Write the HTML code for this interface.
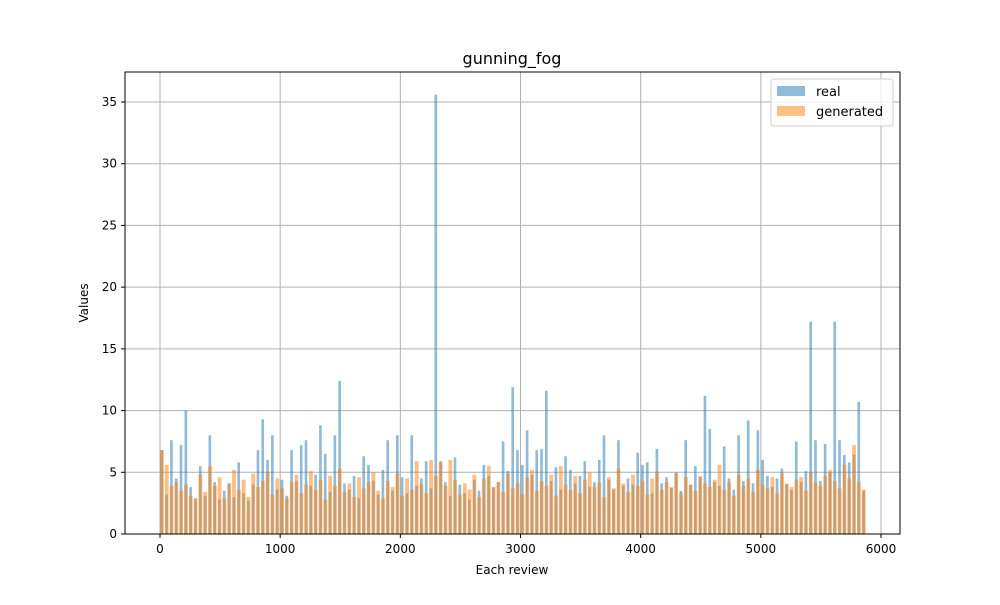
<!DOCTYPE html>
<html><head><meta charset="utf-8"><style>
body{margin:0;background:#fff;font-family:"Liberation Sans","DejaVu Sans",sans-serif;}
text{font-family:"DejaVu Sans","Liberation Sans",sans-serif;}
</style></head><body>
<svg id="chart" width="1000" height="600">
<rect width="1000" height="600" fill="#fff"/>
<g id="grid"></g>
<g id="bars"></g>
<rect x="125" y="72" width="775" height="462" fill="none" stroke="#000" stroke-width="1"/>
<g id="axes"></g>
<text x="512" y="64" text-anchor="middle" font-size="16">gunning_fog</text>
<text x="512" y="574" text-anchor="middle" font-size="12">Each review</text>
<text x="88" y="303" text-anchor="middle" font-size="12" transform="rotate(-90 88 303)">Values</text>
<g>
<rect x="771" y="79" width="122" height="47" rx="3" fill="#fff" fill-opacity="0.8" stroke="#ccc"/>
<g>
<rect x="777" y="86" width="28" height="10" fill="#1f77b4" fill-opacity="0.5"/>
<text x="816" y="96" font-size="13">real</text></g>
<g>
<rect x="777" y="106" width="28" height="10" fill="#ff7f0e" fill-opacity="0.5"/>
<text x="816" y="116" font-size="13">generated</text></g>
</g>
</svg>
<script>
const step = 40;
const realValues = [6.8,3.2,7.6,4.5,7.2,10.0,3.8,2.9,5.5,3.1,8.0,4.2,2.8,3.5,4.1,3.0,5.8,3.3,2.7,4.0,6.8,9.3,6.0,8.0,3.6,4.4,3.1,6.8,4.3,7.2,7.6,3.9,4.8,8.8,6.5,3.4,8.0,12.4,4.1,3.6,4.7,2.9,6.3,5.6,4.3,3.2,5.2,7.6,3.5,8.0,4.6,3.3,8.0,3.9,4.5,5.9,3.7,35.6,5.9,4.2,3.1,6.2,4.0,3.3,2.8,4.4,3.5,5.6,4.7,3.8,4.2,7.5,5.1,11.9,6.8,5.6,8.4,4.8,6.8,6.9,11.6,4.3,5.4,3.6,6.3,5.2,4.1,4.7,5.9,3.8,4.2,6.0,8.0,4.4,3.6,7.6,3.9,4.5,4.0,6.6,5.6,5.8,3.3,6.9,4.1,4.6,3.7,5.0,3.5,7.6,4.0,5.5,4.6,11.2,8.5,4.2,3.9,7.1,4.5,3.6,8.0,4.3,9.2,4.1,8.4,6.0,4.7,3.8,4.5,5.3,4.0,3.6,7.5,4.2,5.1,17.2,7.6,4.3,7.3,5.0,17.2,7.6,6.4,5.8,6.4,10.7,3.5];
const genValues = [6.8,5.6,3.9,4.2,3.5,4.0,3.1,2.8,4.8,3.4,5.5,3.9,4.6,2.9,4.1,5.2,3.6,4.4,3.0,4.9,3.8,4.3,5.0,3.2,4.5,3.7,2.9,4.2,4.8,3.3,4.0,5.1,3.6,4.4,2.8,4.7,3.9,5.3,3.4,4.1,3.0,4.6,3.7,4.2,5.0,3.5,2.9,4.3,3.8,4.9,3.1,4.5,3.6,5.9,4.0,3.3,6.0,4.7,5.8,3.9,6.0,4.4,3.2,4.1,3.6,4.8,3.0,4.5,5.5,3.8,4.2,3.4,4.9,3.7,4.1,3.2,4.6,5.2,3.5,4.3,3.9,4.8,3.1,5.5,4.0,3.6,4.7,3.3,4.4,5.0,3.8,4.2,3.0,4.6,3.7,5.3,4.1,3.4,4.8,3.9,4.3,3.2,4.5,5.0,3.6,4.2,3.8,4.9,3.3,4.6,4.0,3.5,4.7,4.1,3.8,4.4,5.6,3.6,4.2,3.1,4.8,3.9,4.5,3.4,5.2,4.0,3.7,4.6,3.3,4.9,4.1,3.8,4.4,4.6,3.5,5.0,4.2,3.9,4.7,5.2,4.3,3.7,5.6,4.5,7.2,4.2,3.6];
const xTicks = [0,1000,2000,3000,4000,5000,6000];
const yTicks = [0,5,10,15,20,25,30,35];
const NS='http://www.w3.org/2000/svg';
function xs(v){return 160+v*(881-160)/6000;}
function ys(v){return 534-v*(534-102)/35;}
function mk(tag,at,parent){const e=document.createElementNS(NS,tag);for(const k in at)e.setAttribute(k,at[k]);parent.appendChild(e);return e;}
const grid=document.getElementById('grid'),axes=document.getElementById('axes'),bars=document.getElementById('bars');
xTicks.forEach(t=>{
 const g=mk('line',{x1:xs(t),x2:xs(t),y1:72,y2:534,stroke:'#b0b0b0','stroke-width':1},grid);
 
 
 const tk=mk('line',{x1:xs(t),x2:xs(t),y1:534,y2:538,stroke:'#000'},axes);
 
 
 const tx=mk('text',{x:xs(t),y:553,'text-anchor':'middle','font-size':12},axes);
 tx.textContent=t;
 
 
});
yTicks.forEach(t=>{
 const g=mk('line',{x1:125,x2:900,y1:ys(t),y2:ys(t),stroke:'#b0b0b0','stroke-width':1},grid);
 
 
 const tk=mk('line',{x1:121,x2:125,y1:ys(t),y2:ys(t),stroke:'#000'},axes);
 
 
 const tx=mk('text',{x:117,y:ys(t)+4,'text-anchor':'end','font-size':12},axes);
 tx.textContent=t;
 
 
});
const stepPx=xs(step)-xs(0);
function drawSeries(vals,color,name,bw,off){
 vals.forEach((v,i)=>{
  const x=xs(i*step)+off;
  const r=mk('rect',{x:x,y:ys(v),width:bw,height:ys(0)-ys(v),fill:color,'fill-opacity':0.5},bars);
  
  
 });
}
drawSeries(realValues,'#1f77b4','bar-real',stepPx*0.55,stepPx*0.1);
drawSeries(genValues,'#ff7f0e','bar-generated',stepPx*0.8,0);
</script>
</body></html>
